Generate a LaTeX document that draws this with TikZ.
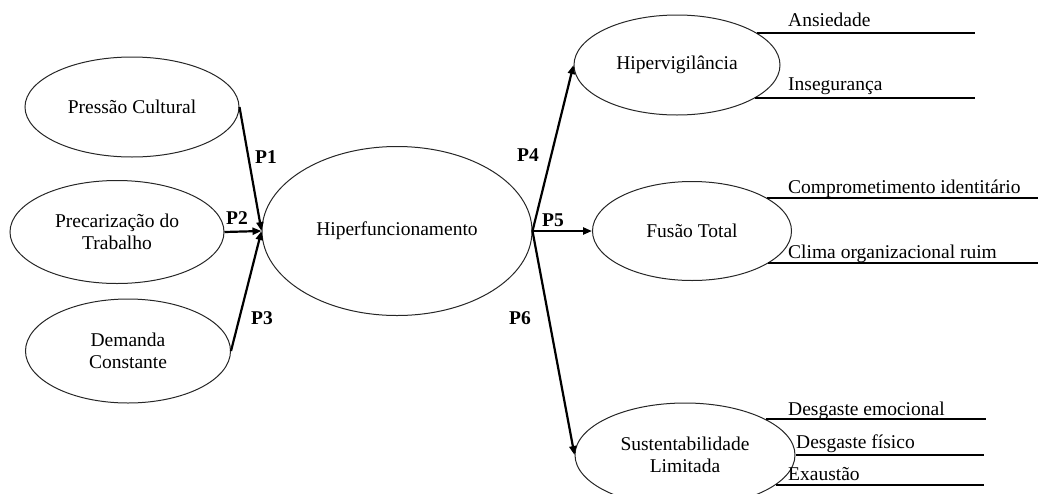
\documentclass[tikz,border=0pt]{standalone}
\usepackage{fontspec}
\setmainfont{Liberation Serif}
\usetikzlibrary{shapes.geometric, arrows.meta}

\tikzset{
  construct/.style={ellipse, draw=black!85, line width=1pt, inner sep=0pt,
    align=center, font=\fontsize{19.5}{22.5}\selectfont},
  link/.style={line width=2.2pt, -{Triangle[length=9pt, width=7pt]}},
  plabel/.style={font=\fontsize{19.5}{22.5}\selectfont\bfseries},
  itemline/.style={line width=2pt},
  itemlabel/.style={anchor=base west, inner sep=0pt,
    font=\fontsize{19.5}{22.5}\selectfont}
}

\begin{document}
\begin{tikzpicture}[x=1pt, y=-1pt]
  \clip (0, 0) rectangle (1038, 493);

  % antecedentes
  \node[construct, minimum width=214, minimum height=100] (pressao) at (132, 107) {Press\~ao Cultural};
  \node[construct, minimum width=214, minimum height=103] (precar) at (117, 232) {Precariza\c{c}\~ao do\\Trabalho};
  \node[construct, minimum width=205, minimum height=104] (demanda) at (128, 351) {Demanda\\Constante};

  % centro
  \node[construct, minimum width=270, minimum height=169] (hiper) at (397, 231) {Hiperfuncionamento};

  % consequentes
  \node[construct, minimum width=206, minimum height=100] (vigil) at (677, 65) {Hipervigil\^ancia};
  \node[construct, minimum width=199, minimum height=99] (fusao) at (692, 231) {Fus\~ao Total};
  \node[construct, minimum width=220, minimum height=104] (sust) at (685, 455) {Sustentabilidade\\Limitada};

  % caminhos
  \draw[link] (pressao.east) -- (hiper.west);
  \draw[link] (precar.east) -- (hiper.west);
  \draw[link] (demanda.east) -- (hiper.west);
  \draw[link] (hiper.east) -- (vigil.west);
  \draw[link] (hiper.east) -- (fusao.west);
  \draw[link] (hiper.east) -- (sust.west);

  \node[plabel] (p1) at (266, 157) {P1};
  \node[plabel] (p2) at (237, 218) {P2};
  \node[plabel] (p3) at (262, 318) {P3};
  \node[plabel] (p4) at (528, 155) {P4};
  \node[plabel] (p5) at (553, 220) {P5};
  \node[plabel] (p6) at (520, 318) {P6};

  % indicadores
  \draw[itemline] (vigil.22) -- ++(218, 0);
  \draw[itemline] (vigil.-23) -- ++(220, 0);
  \draw[itemline] (fusao.24) -- ++(275, 0);
  \draw[itemline] (fusao.-23) -- ++(275, 0);
  \draw[itemline] (sust.24) -- ++(220, 0);
  \draw[itemline] (sust.0) -- ++(188, 0);
  \draw[itemline] (sust.-18) -- ++(208, 0);

  \node[itemlabel] (ansiedade) at (788, 26) {Ansiedade};
  \node[itemlabel] (inseg) at (788, 90) {Insegurança};
  \node[itemlabel] (compr) at (788, 193) {Comprometimento identitário};
  \node[itemlabel] (clima) at (788, 258) {Clima organizacional ruim};
  \node[itemlabel] (emoc) at (788, 415) {Desgaste emocional};
  \node[itemlabel] (fisico) at (796, 448) {Desgaste físico};
  \node[itemlabel] (exaust) at (788, 480) {Exaustão};
\end{tikzpicture}
\end{document}
